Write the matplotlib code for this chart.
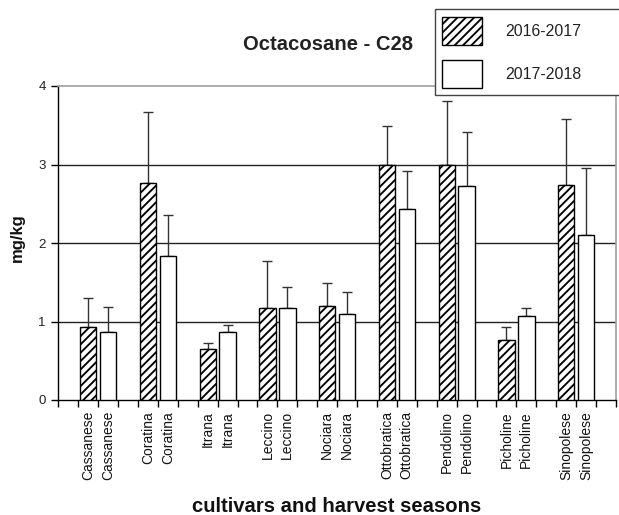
import matplotlib
matplotlib.use("Agg")
import matplotlib.pyplot as plt
import numpy as np

cultivars = ["Cassanese", "Coratina", "Itrana", "Leccino", "Nociara",
             "Ottobratica", "Pendolino", "Picholine", "Sinopolese"]
seasons = ["2016-2017", "2017-2018"]
mean_1617 = [0.93, 2.77, 0.65, 1.17, 1.20, 3.00, 3.00, 0.76, 2.74]
err_1617 = [0.37, 0.90, 0.08, 0.60, 0.29, 0.49, 0.81, 0.17, 0.84]
mean_1718 = [0.86, 1.84, 0.86, 1.17, 1.10, 2.43, 2.72, 1.07, 2.10]
err_1718 = [0.33, 0.52, 0.10, 0.27, 0.27, 0.49, 0.70, 0.10, 0.85]
yticks = [0, 1, 2, 3, 4]

plt.rcParams['font.family'] = ['Liberation Sans', 'DejaVu Sans']
plt.rcParams['hatch.linewidth'] = 1.35

W, H = 619, 515
fig = plt.figure(figsize=(W/100, H/100), dpi=100)
ax = fig.add_axes([58.3/W, 1-400/H, (616-58.3)/W, 314/H])

n = len(cultivars)
x1 = np.arange(n) * 3 + 1
x2 = x1 + 1
w = 0.82

ax.bar(x1, mean_1617, width=w, color='white', edgecolor='black', hatch='////',
       linewidth=1.0, zorder=3, label=seasons[0])
ax.bar(x2, mean_1718, width=w, color='white', edgecolor='black',
       linewidth=1.0, zorder=3, label=seasons[1])
ax.errorbar(x1, mean_1617, yerr=[np.zeros(n), err_1617], fmt='none',
            ecolor='#333333', elinewidth=1.0, capsize=3.4, capthick=1.0, zorder=2)
ax.errorbar(x2, mean_1718, yerr=[np.zeros(n), err_1718], fmt='none',
            ecolor='#333333', elinewidth=1.0, capsize=3.4, capthick=1.0, zorder=2)

ax.set_xlim(-0.5, 27.5)
ax.set_ylim(0, 4)
ax.set_yticks(yticks)
ax.set_yticklabels([str(t) for t in yticks], fontsize=9.5, color='#222222')
for t in [1, 2, 3]:
    ax.axhline(t, color='#222222', linewidth=1.0, zorder=1)

ax.set_xticks(np.arange(-0.5, 28, 1.0), minor=True)
ax.set_xticks(np.concatenate([x1, x2]))
ax.set_xticklabels(cultivars + cultivars, rotation=90, fontsize=10,
                   va='top', ha='center', color='#111111')
ax.tick_params(axis='x', which='major', length=0, pad=8)
ax.tick_params(axis='x', which='minor', length=5, width=1, color='black',
               direction='out')
ax.tick_params(axis='y', length=5, width=1, direction='out', pad=4)

for s in ['left', 'bottom']:
    ax.spines[s].set_color('black')
    ax.spines[s].set_linewidth(1.0)
for s in ['top', 'right']:
    ax.spines[s].set_color('#a0a0a0')
    ax.spines[s].set_linewidth(1.2)

fig.text(17/W, 1-237.5/H, 'mg/kg', fontsize=12, fontweight='bold',
         rotation=90, ha='center', va='center', color='#111111')
fig.text(337/W, 1-512/H, 'cultivars and harvest seasons', fontsize=14.6,
         fontweight='bold', ha='center', va='baseline', color='#111111')
fig.text(328/W, 1-50/H, 'Octacosane - C28', fontsize=14.6,
         fontweight='bold', ha='center', va='baseline', color='#222222')

leg = fig.legend(loc='upper left',
                 bbox_to_anchor=(435/W, 1-95/H, 220/W, 85.7/H),
                 mode='expand', ncol=1, fontsize=11.4, frameon=True,
                 fancybox=False, handlelength=2.5, handleheight=2.35,
                 labelspacing=0.95, handletextpad=1.45, borderpad=0.46,
                 borderaxespad=0)
leg.get_frame().set_edgecolor('#444444')
leg.get_frame().set_linewidth(1.0)
leg.get_frame().set_alpha(1)
for t in leg.get_texts():
    t.set_color('#222222')

fig.savefig('out.png', dpi=100)
